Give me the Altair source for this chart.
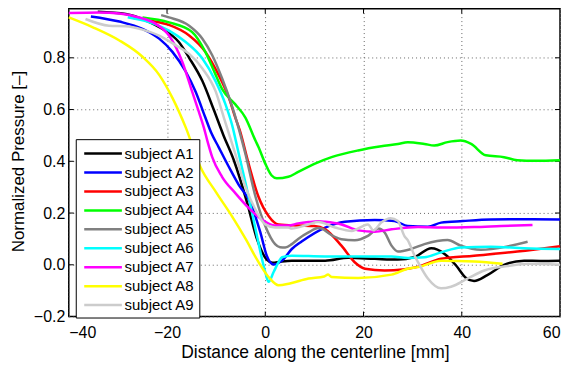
import altair as alt
import pandas as pd

subjects = ["subject A1", "subject A2", "subject A3", "subject A4", "subject A5",
            "subject A6", "subject A7", "subject A8", "subject A9"]
colors = ["#000000", "#0000ff", "#ff0000", "#00ff00", "#808080",
          "#00ffff", "#ff00ff", "#ffff00", "#cccccc"]

a1_x = [-34.1, -28.4, -24.3, -21.0, -17.6, -15.5, -12.8, -10.5, -8.5, -6.4, -3.7, -1.7, 0.3, 1.5, 3.0, 5.4,
        12.2, 16.9, 22.3, 27.0, 30.4, 33.8, 36.5, 38.8, 40.8, 42.5, 45.2, 48.6, 52.7, 56.0, 60.0]
a1_y = [0.978, 0.969, 0.944, 0.912, 0.861, 0.80, 0.71, 0.60, 0.50, 0.404, 0.24, 0.10, 0.02, 0.008, 0.012, 0.016,
        0.016, 0.027, 0.023, 0.020, 0.030, 0.064, 0.042, -0.002, -0.05, -0.063, -0.04, 0.0, 0.016, 0.015, 0.016]

a2_x = [-35.5, -29.7, -25.0, -21.6, -18.9, -16.2, -14.2, -12.2, -11.0, -9.5, -7.4, -5.4, -3.0, -1.0, 0.3, 1.7,
        3.4, 5.4, 7.4, 12.2, 16.2, 22.3, 26.3, 29.0, 33.1, 35.8, 40.2, 45.9, 52.0, 60.0]
a2_y = [0.96, 0.94, 0.912, 0.874, 0.823, 0.747, 0.67, 0.569, 0.51, 0.455, 0.378, 0.309, 0.239, 0.125, 0.035, 0.001,
        0.016, 0.061, 0.09, 0.144, 0.166, 0.173, 0.169, 0.15, 0.147, 0.163, 0.169, 0.175, 0.176, 0.175]

a3_x = [-27.0, -23.6, -19.6, -15.5, -12.2, -9.5, -7.4, -6.1, -5.2, -3.4, -1.4, 0.7, 2.7, 6.7, 10.0, 12.2,
        15.5, 18.2, 20.3, 24.3, 28.0, 31.0, 35.8, 42.5, 51.3, 60.0]
a3_y = [0.955, 0.944, 0.927, 0.886, 0.823, 0.734, 0.645, 0.569, 0.52, 0.391, 0.264, 0.188, 0.156, 0.152, 0.15, 0.137,
        0.074, 0.01, -0.015, -0.022, -0.018, -0.008, 0.023, 0.035, 0.051, 0.072]

a4_x = [-25.0, -19.6, -14.9, -12.2, -10.1, -8.8, -6.1, -4.05, -2.0, -1.36, 0.0, 1.3, 2.35, 4.7, 6.7, 10.0,
        13.5, 18.9, 23.6, 27.0, 29.0, 32.4, 34.4, 37.1, 39.8, 41.9, 44.9, 48.6, 51.3, 55.0, 60.0]
a4_y = [0.956, 0.937, 0.90, 0.823, 0.734, 0.68, 0.62, 0.569, 0.48, 0.454, 0.391, 0.345, 0.334, 0.340, 0.359, 0.39,
        0.416, 0.442, 0.458, 0.467, 0.474, 0.467, 0.461, 0.474, 0.48, 0.467, 0.423, 0.416, 0.404, 0.402, 0.404]

a5_x = [-21.2, -19.6, -15.5, -12.8, -10.8, -8.8, -7.1, -5.6, -4.05, -2.0, 0.0, 2.0, 3.0, 4.05, 5.4, 6.7, 8.8,
        10.8, 11.5, 13.2, 15.5, 18.2, 20.9, 23.0, 24.3, 25.7, 27.0, 29.7, 32.4, 35.0, 37.1, 39.8, 43.9, 49.3, 53.4]
a5_y = [0.965, 0.956, 0.924, 0.874, 0.81, 0.721, 0.632, 0.54, 0.429, 0.264, 0.15, 0.08, 0.068, 0.067, 0.08, 0.10, 0.125,
        0.142, 0.14, 0.118, 0.099, 0.095, 0.112, 0.14, 0.125, 0.074, 0.051, 0.061, 0.08, 0.092, 0.096, 0.074, 0.058, 0.071, 0.089]

a6_x = [-28.0, -24.0, -19.6, -16.2, -12.8, -10.1, -8.1, -6.75, -5.4, -3.4, -1.7, 0.0, 0.67, 1.7, 2.7, 3.4, 5.4,
        12.2, 18.9, 25.7, 29.0, 32.4, 35.8, 39.8, 45.9, 52.7, 60.0]
a6_y = [0.957, 0.94, 0.905, 0.861, 0.797, 0.709, 0.62, 0.54, 0.429, 0.264, 0.112, -0.028, -0.066, -0.028, 0.01, 0.029, 0.035,
        0.032, 0.032, 0.032, 0.026, 0.029, 0.048, 0.067, 0.07, 0.064, 0.061]

a7_x = [-40.0, -33.8, -29.7, -25.7, -22.3, -19.6, -16.9, -14.9, -13.5, -12.5, -11.8, -10.8, -8.8, -6.1, -3.4, -0.7,
        2.0, 4.7, 6.7, 8.8, 10.8, 12.2, 15.5, 18.9, 22.3, 25.7, 31.1, 35.8, 42.5, 48.0, 54.4]
a7_y = [0.973, 0.975, 0.971, 0.956, 0.931, 0.886, 0.785, 0.67, 0.59, 0.53, 0.48, 0.416, 0.34, 0.277, 0.22, 0.175,
        0.152, 0.152, 0.16, 0.165, 0.168, 0.166, 0.156, 0.133, 0.128, 0.137, 0.146, 0.144, 0.146, 0.15, 0.154]

a8_x = [-40.0, -35.1, -29.7, -25.0, -21.6, -18.9, -16.2, -13.2, -10.0, -6.8, -4.0, -1.4, 0.8, 2.7, 5.0, 8.8,
        12.0, 12.8, 13.5, 18.9, 25.7, 29.0, 31.1, 35.8, 42.6, 48.3]
a8_y = [0.956, 0.918, 0.867, 0.804, 0.734, 0.645, 0.531, 0.378, 0.28, 0.188, 0.10, 0.011, -0.05, -0.079, -0.072, -0.053,
        -0.045, -0.038, -0.047, -0.051, -0.038, -0.015, -0.009, 0.016, 0.013, 0.004]

a9_x = [-36.6, -31.8, -28.4, -25.0, -21.6, -18.2, -15.5, -12.8, -10.1, -8.45, -6.1, -4.05, -2.0, 0.0, 2.0, 4.7,
        5.4, 8.8, 10.8, 14.2, 17.6, 20.9, 22.0, 23.6, 25.5, 27.0, 28.3, 29.0, 30.4, 31.1, 33.1, 35.8, 37.8, 41.2,
        44.6, 49.3, 53.4, 60.0]
a9_y = [0.95, 0.924, 0.922, 0.909, 0.886, 0.848, 0.815, 0.759, 0.67, 0.57, 0.429, 0.302, 0.213, 0.156, 0.144, 0.144,
        0.14, 0.156, 0.165, 0.144, 0.131, 0.156, 0.133, 0.163, 0.18, 0.169, 0.112, 0.095, 0.035, 0.01, -0.053, -0.091,
        -0.085, -0.053, -0.022, -0.005, 0.004, 0.0]

x_ticks = [-40, -20, 0, 20, 40, 60]
y_ticks = [-0.2, 0, 0.2, 0.4, 0.6, 0.8]

series = [(a1_x, a1_y), (a2_x, a2_y), (a3_x, a3_y), (a4_x, a4_y), (a5_x, a5_y),
          (a6_x, a6_y), (a7_x, a7_y), (a8_x, a8_y), (a9_x, a9_y)]
rows = []
for name, (xs, ys) in zip(subjects, series):
    for i, (xv, yv) in enumerate(zip(xs, ys)):
        rows.append({"subject": name, "x": xv, "y": yv, "i": i})
df = pd.DataFrame(rows)

W, H = 493, 309
xscale = alt.Scale(domain=[-40, 60], nice=False, zero=False)
yscale = alt.Scale(domain=[-0.2, 0.99], nice=False, zero=False)

x_axis = alt.Axis(values=x_ticks, title="Distance along the centerline [mm]",
                  grid=True, gridColor="#666666", gridDash=[1, 3], gridWidth=1,
                  ticks=False, tickSize=0, domain=False, labelPadding=8,
                  labelFontSize=16, labelColor="black",
                  titleFontSize=17.5, titleFontWeight="normal", titleColor="black",
                  titleX=247, titleY=41, titleBaseline="alphabetic", titleAnchor="middle")
y_axis = alt.Axis(values=y_ticks, title="Normalized Pressure [–]",
                  grid=True, gridColor="#666666", gridDash=[1, 3], gridWidth=1,
                  ticks=False, tickSize=0, domain=False, labelPadding=4,
                  labelFontSize=16, labelColor="black",
                  titleFontSize=17, titleFontWeight="normal", titleColor="black",
                  titleX=-50, titleY=153, titleAngle=270, titleBaseline="middle",
                  titleAlign="center")

lines = alt.Chart(df).mark_line(strokeWidth=2.5, interpolate="monotone").encode(
    x=alt.X("x:Q", scale=xscale, axis=x_axis),
    y=alt.Y("y:Q", scale=yscale, axis=y_axis),
    color=alt.Color("subject:N", scale=alt.Scale(domain=subjects, range=colors),
                    legend=alt.Legend(orient="none", legendX=7, legendY=131, title=None,
                                      symbolType="M0,0H4.2", symbolSize=324, symbolStrokeWidth=2.5,
                                      symbolOffset=-6,
                                      labelFontSize=15, labelColor="black", labelOffset=30,
                                      fillColor="white", strokeColor="black",
                                      padding=4, rowPadding=0)),
    detail="subject:N",
    order="i:Q",
)

xt = pd.DataFrame({"x": x_ticks[1:-1]})
yt = pd.DataFrame({"y": y_ticks[1:]})
tb = alt.Chart(xt).mark_rule(color="black", strokeWidth=1).encode(
    x=alt.X("x:Q", scale=xscale, axis=x_axis), y=alt.value(H), y2=alt.value(H - 5))
tt = alt.Chart(xt).mark_rule(color="black", strokeWidth=1).encode(
    x=alt.X("x:Q", scale=xscale, axis=x_axis), y=alt.value(0), y2=alt.value(5))
tl = alt.Chart(yt).mark_rule(color="black", strokeWidth=1).encode(
    y=alt.Y("y:Q", scale=yscale, axis=y_axis), x=alt.value(0), x2=alt.value(5))
tr = alt.Chart(yt).mark_rule(color="black", strokeWidth=1).encode(
    y=alt.Y("y:Q", scale=yscale, axis=y_axis), x=alt.value(W), x2=alt.value(W - 5))

chart = alt.layer(tb, tt, tl, tr, lines).properties(
    width=W, height=H,
    autosize=alt.AutoSizeParams(type="none"),
    padding={"left": 61, "top": 0, "right": 5, "bottom": 48},
).configure(font="Liberation Sans").configure_view(
    stroke="black", strokeWidth=1.5
)

chart.save("out.html", embed_options={"renderer": "svg", "actions": False})
